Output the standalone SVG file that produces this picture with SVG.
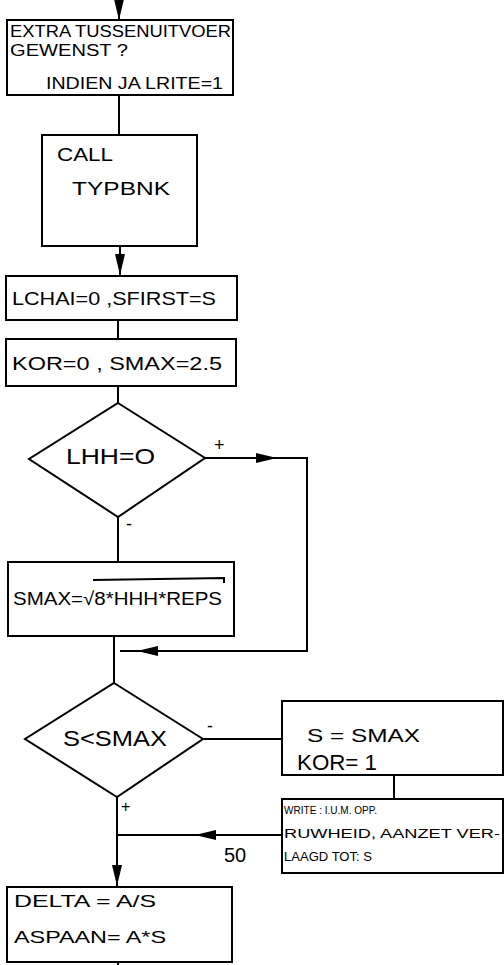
<svg xmlns="http://www.w3.org/2000/svg" width="504" height="965" viewBox="0 0 504 965">
<style>
.box{fill:#fff;stroke:#000;stroke-width:2}
.ln{fill:none;stroke:#000;stroke-width:2}
text{font-family:"Liberation Sans",Arial,sans-serif;fill:#000}
.hw{font-size:16px}
.big{font-size:19px}
.sm{font-size:12.5px}
</style>
<defs>
<marker id="ah" markerUnits="userSpaceOnUse" markerWidth="22" markerHeight="12" refX="21" refY="6" orient="auto">
<path d="M0,1 L21,6 L0,11 z" fill="#000"/>
</marker>
</defs>
<g id="connectors">
<path class="ln" d="M119,0 V20" marker-end="url(#ah)"/>
<path class="ln" d="M119,95 V135"/>
<path class="ln" d="M120,246 V275" marker-end="url(#ah)"/>
<path class="ln" d="M118,321 V339"/>
<path class="ln" d="M118,386 V403"/>
<path class="ln" d="M205,458 H277" marker-end="url(#ah)"/>
<path class="ln" d="M275,458 H307 V651 H137" marker-end="url(#ah)"/>
<path class="ln" d="M140,651 H120"/>
<path class="ln" d="M118,517 V562"/>
<path class="ln" d="M114,636 V683"/>
<path class="ln" d="M203,739 H282"/>
<path class="ln" d="M394,775 V799"/>
<path class="ln" d="M282,835 H195" marker-end="url(#ah)"/>
<path class="ln" d="M198,835 H118"/>
<path class="ln" d="M117,797 V886" marker-end="url(#ah)"/>
<path class="ln" d="M118,963 V965"/>
<text x="214" y="451" font-size="18">+</text>
<text x="126" y="530" font-size="18">-</text>
<text x="207" y="732" font-size="18">-</text>
<text x="121" y="812" font-size="16">+</text>
<text x="224" y="862" font-size="20">50</text>
</g>
<g id="n1">
<rect class="box" x="7" y="20" width="226" height="75"/>
<text class="hw" x="10" y="37" textLength="221" lengthAdjust="spacingAndGlyphs">EXTRA TUSSENUITVOER</text>
<text class="hw" x="10" y="56" textLength="118" lengthAdjust="spacingAndGlyphs">GEWENST ?</text>
<text class="hw" x="46" y="89" textLength="177" lengthAdjust="spacingAndGlyphs">INDIEN JA LRITE=1</text>
</g>
<g id="n2">
<rect class="box" x="42" y="135" width="155" height="111"/>
<text class="big" x="57" y="161" textLength="56" lengthAdjust="spacingAndGlyphs">CALL</text>
<text class="big" x="72" y="195" textLength="98" lengthAdjust="spacingAndGlyphs">TYPBNK</text>
</g>
<g id="n3">
<rect class="box" x="6" y="276" width="231" height="44"/>
<text class="big" x="12" y="305" textLength="204" lengthAdjust="spacingAndGlyphs">LCHAI=0 ,SFIRST=S</text>
</g>
<g id="n4">
<rect class="box" x="6" y="339" width="230" height="47"/>
<text class="big" x="12" y="370" textLength="210" lengthAdjust="spacingAndGlyphs">KOR=0  , SMAX=2.5</text>
</g>
<g id="n5">
<polygon class="box" points="118,403 205,458 118,517 29,459"/>
<text x="66" y="464" font-size="22" textLength="89" lengthAdjust="spacingAndGlyphs">LHH=O</text>
</g>
<g id="n6">
<rect class="box" x="8" y="562" width="226" height="74"/>
<text class="big" x="13" y="605" textLength="209" lengthAdjust="spacingAndGlyphs">SMAX=√8*HHH*REPS</text>
<path class="ln" d="M93,580 L224,578 V583" stroke-width="1.5"/>
</g>
<g id="n7">
<polygon class="box" points="114,683 203,739 117,797 25,739"/>
<text x="63" y="746" font-size="22" textLength="104" lengthAdjust="spacingAndGlyphs">S&lt;SMAX</text>
</g>
<g id="n8">
<rect class="box" x="282" y="701" width="221" height="74"/>
<text class="big" x="307" y="742" textLength="113" lengthAdjust="spacingAndGlyphs">S = SMAX</text>
<text x="297" y="770" font-size="22" textLength="80" lengthAdjust="spacingAndGlyphs">KOR= 1</text>
</g>
<g id="n9">
<rect class="box" x="282" y="799" width="221" height="74"/>
<text x="284" y="814" font-size="11" textLength="93" lengthAdjust="spacingAndGlyphs">WRITE : I.U.M. OPP.</text>
<text class="sm" x="284" y="838" textLength="216" lengthAdjust="spacingAndGlyphs">RUWHEID, AANZET VER-</text>
<text class="sm" x="284" y="861" textLength="88" lengthAdjust="spacingAndGlyphs">LAAGD TOT: S</text>
</g>
<g id="n10">
<rect class="box" x="7" y="887" width="225" height="75"/>
<text x="14" y="907" font-size="17" textLength="142" lengthAdjust="spacingAndGlyphs">DELTA = A/S</text>
<text x="14" y="943" font-size="17" textLength="152" lengthAdjust="spacingAndGlyphs">ASPAAN= A*S</text>
</g>
</svg>
